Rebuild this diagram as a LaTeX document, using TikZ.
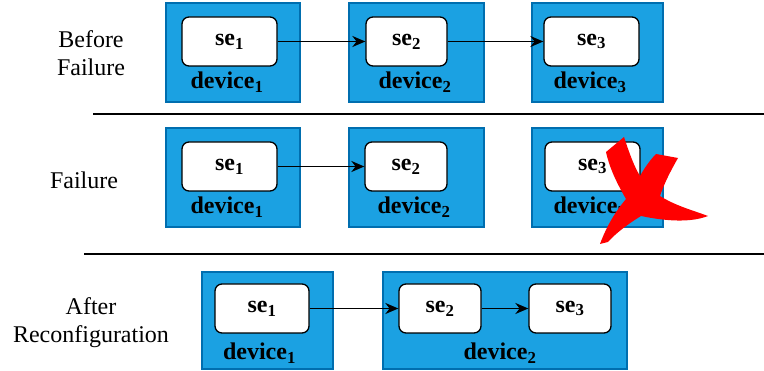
\documentclass[tikz,border=0pt]{standalone}
\usepackage{fontspec}
\setmainfont{Liberation Serif}
\usetikzlibrary{arrows.meta}
\definecolor{devblue}{HTML}{1BA1E2}
\definecolor{devedge}{HTML}{006EAF}
\definecolor{failred}{HTML}{FF0000}

\begin{document}
\begin{tikzpicture}[x=1pt,y=-1pt,
	device/.style={shape=rectangle,fill=devblue,draw=devedge,line width=1.2pt,inner sep=0pt,minimum height=99pt},
	se/.style={shape=rectangle,rounded corners=7pt,fill=white,draw=black,line width=1.3pt,inner sep=0pt,minimum height=49pt,font=\rmfamily\fontsize{24}{28}\selectfont\bfseries},
	devlabel/.style={anchor=base,inner sep=0pt,font=\rmfamily\fontsize{24}{28}\selectfont\bfseries},
	phase/.style={align=center,inner sep=0pt,font=\rmfamily\fontsize{24}{28}\selectfont},
	link/.style={-{Stealth[length=13pt,width=11pt]},line width=1.8pt}]
		\useasboundingbox (0,0) rectangle (764,371);
		
		\node[phase] (P1) at (91,53) {Before\\Failure};
		\node[phase] (P2) at (84,180) {Failure};
		\node[phase] (P3) at (91,323) {After\\Reconfiguration};
		
		\draw[line width=1.6pt] (93,114) -- (764,114);
		\draw[line width=1.6pt] (84,254) -- (764,254);
		
		\node[device, minimum width=134pt] (D11) at (233,52.5) {};
		\node[device, minimum width=135pt] (D12) at (416.5,52.5) {};
		\node[device, minimum width=131pt] (D13) at (597.5,52.5) {};
		\node[se, minimum width=95pt] (S11) at (229.5,41.5) {se\textsubscript{1}};
		\node[se, minimum width=81pt] (S12) at (406.5,41.5) {se\textsubscript{2}};
		\node[se, minimum width=95pt] (S13) at (591.5,41.5) {se\textsubscript{3}};
		\node[devlabel] (L11) at (227,89) {device\textsubscript{1}};
		\node[devlabel] (L12) at (415,89) {device\textsubscript{2}};
		\node[devlabel] (L13) at (590,89) {device\textsubscript{3}};
		
		\node[device, minimum width=134pt] (D21) at (233,177.5) {};
		\node[device, minimum width=135pt] (D22) at (416.5,177.5) {};
		\node[device, minimum width=131pt] (D23) at (597.5,177.5) {};
		\node[se, minimum width=95pt] (S21) at (229.5,166.5) {se\textsubscript{1}};
		\node[se, minimum width=82pt] (S22) at (406,166.5) {se\textsubscript{2}};
		\node[se, minimum width=95pt] (S23) at (592.5,166.5) {se\textsubscript{3}};
		\node[devlabel] (L21) at (227,214) {device\textsubscript{1}};
		\node[devlabel] (L22) at (414,214) {device\textsubscript{2}};
		\node[devlabel] (L23) at (590,214) {device\textsubscript{3}};
		
		\node[device, minimum width=131pt, minimum height=97pt] (D31) at (267.5,320.5) {};
		\node[device, minimum width=244pt, minimum height=97pt] (D32) at (505,320.5) {};
		\node[se, minimum width=94pt] (S31) at (262,308.5) {se\textsubscript{1}};
		\node[se, minimum width=82pt] (S32) at (440,308.5) {se\textsubscript{2}};
		\node[se, minimum width=82pt] (S33) at (570,308.5) {se\textsubscript{3}};
		\node[devlabel] (L31) at (259.5,360) {device\textsubscript{1}};
		\node[devlabel] (L32) at (500,360) {device\textsubscript{2}};
		
		\path [link] (S11) edge (S12);
		\path [link] (S12) edge (S13);
		\path [link] (S21) edge (S22);
		\path [link] (S31) edge (S32);
		\path [link] (S32) edge (S33);
		
		% failed device
		\fill[failred] (624,137) .. controls (630,155) and (634,166) .. (640,176)
			.. controls (645,167) and (651,159) .. (656,154) -- (678,158)
			.. controls (670,172) and (664,184) .. (660,196)
			.. controls (676,206) and (692,210) .. (708,216)
			.. controls (690,223) and (665,221) .. (641,216)
			.. controls (628,224) and (616,233) .. (608,242) -- (600,244)
			.. controls (607,225) and (616,211) .. (626,199)
			.. controls (618,185) and (610,170) .. (606,152) -- cycle;
		
\end{tikzpicture}
\end{document}
